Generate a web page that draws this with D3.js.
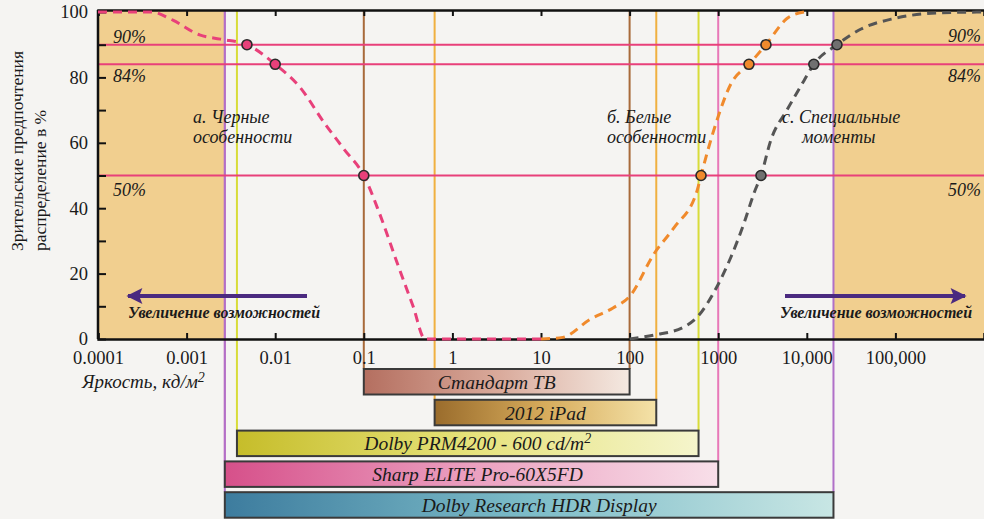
<!DOCTYPE html>
<html>
<head>
<meta charset="utf-8">
<script src="https://cdn.jsdelivr.net/npm/d3@7"></script>
<style>
  html, body { margin: 0; padding: 0; background: #f5f4f2; }
  svg { display: block; }
  text { font-family: "Liberation Serif", "DejaVu Serif", serif; fill: #1a1a1a; }
</style>
</head>
<body>
<svg id="chart" width="984" height="519"></svg>
<script>
// ---------------- DATA ----------------
const xTickValues = [1e-4, 1e-3, 1e-2, 1e-1, 1, 10, 100, 1000, 1e4, 1e5];
const xTickLabels = ["0.0001", "0.001", "0.01", "0.1", "1", "10", "100", "1000", "10,000", "100,000"];
const yTickValues = [0, 20, 40, 60, 80, 100];
const yMinorTicks = [10, 30, 50, 70, 90];
const thresholds = [90, 84, 50];
const thresholdLabels = ["90%", "84%", "50%"];

// Curve a: black features (luminance cd/m2, % preference)
const blackCurve = [[0.0001,100],[0.0004,100],[0.0007,97.5],[0.0014,93],[0.0024,91.7],[0.0048,90],[0.01,84],[0.019,77],[0.036,66],[0.06,58],[0.1,50],[0.15,38.5],[0.24,23],[0.36,10],[0.49,0],[1,0],[3,0],[10,0]];
// Curve b: white features
const whiteCurve = [[10,0],[17.6,0.5],[35.8,6],[65,9.5],[100,13],[188,26],[316,34],[580,45.5],[640,50],[945,66],[1390,78],[2225,84],[3460,90],[5970,98],[9300,100]];
// Curve c: specular highlights
const specCurve = [[100,0],[188,1.2],[411,3.7],[580,6.7],[968,16],[1390,25],[1960,35.5],[2535,44.6],[3040,50],[3950,61],[5970,70],[9290,79],[12000,84],[21900,90],[41000,94.8],[96000,98],[295000,99.7],[1000000,100]];

const blackMarks = [[0.0048,90],[0.01,84],[0.1,50]];
const whiteMarks = [[640,50],[2225,84],[3460,90]];
const specMarks = [[3040,50],[12000,84],[21900,90]];

// Display luminance ranges
const displayNames = ["Стандарт ТВ", "2012 iPad", "Dolby PRM4200 - 600 cd/m", "Sharp ELITE Pro-60X5FD", "Dolby Research HDR Display"];
const displaySup = ["", "", "2", "", ""];
const displayMin = [0.1, 0.63, 0.0037, 0.0027, 0.0027];
const displayMax = [100, 200, 600, 1000, 20000];

// ---------------- STYLE ----------------
const lineColors = ["#a86a3a", "#f0b040", "#d8dc3a", "#e878b8", "#b070c8"];
const gradStops = [
  ["#b46f60", "#d9a99a", "#f4e9e1"],
  ["#9a6c2c", "#d7ac5c", "#f4e2a8"],
  ["#c6bd2a", "#e6e27a", "#f5f5cc"],
  ["#d6508a", "#eba0c0", "#f8dfe9"],
  ["#3d7c9e", "#7dbcc8", "#c8e6e4"]
];
const labelShift = [0, 0, 10, 6, 10];
const beige = "#f1cf8f";
const pink = "#e8407a";
const orange = "#f08a2c";
const gray = "#555555";
const arrowColor = "#4b2a80";

const svg = d3.select("#chart");
const W = 984, H = 519;

const x = d3.scaleLog().domain([1e-4, 1e6]).range([98, 984]);
const y = d3.scaleLinear().domain([0, 100]).range([339, 12]);
const topY = 10;

svg.append("rect").attr("width", W).attr("height", H).attr("fill", "#f5f4f2");

// Beige regions outside the widest display range
const widest = displayMax.indexOf(d3.max(displayMax));
svg.append("rect")
  .attr("x", x(1e-4)).attr("y", topY)
  .attr("width", x(displayMin[widest]) - x(1e-4)).attr("height", y(0) - topY)
  .attr("fill", beige);
svg.append("rect")
  .attr("x", x(displayMax[widest])).attr("y", topY)
  .attr("width", x(1e6) - x(displayMax[widest])).attr("height", y(0) - topY)
  .attr("fill", beige);

// Bars band scale
const band = d3.scaleBand().domain(displayNames).range([369, 517.7]).paddingInner(0.172).paddingOuter(0);

// Vertical display lines
const vl = svg.append("g");
displayNames.forEach((n, i) => {
  [displayMin[i], displayMax[i]].forEach(v => {
    vl.append("line")
      .attr("x1", x(v)).attr("x2", x(v))
      .attr("y1", topY).attr("y2", band(n))
      .attr("stroke", lineColors[i]).attr("stroke-width", 2);
  });
});

// Threshold lines
svg.append("g").selectAll("line").data(thresholds).join("line")
  .attr("x1", x(1e-4)).attr("x2", x(1e6))
  .attr("y1", d => y(d)).attr("y2", d => y(d))
  .attr("stroke", pink).attr("stroke-width", 2);

// Threshold labels
const tlDy = [-2, 18, 20];
thresholds.forEach((t, i) => {
  svg.append("text").attr("x", 113).attr("y", y(t) + tlDy[i])
    .attr("font-size", 18).attr("font-style", "italic").text(thresholdLabels[i]);
  svg.append("text").attr("x", 981).attr("y", y(t) + tlDy[i] - (i === 0 ? 1 : 0))
    .attr("text-anchor", "end")
    .attr("font-size", 18).attr("font-style", "italic").text(thresholdLabels[i]);
});

// Axes
const xAxis = d3.axisBottom(x).tickValues(xTickValues)
  .tickFormat((d, i) => xTickLabels[i]).tickSize(-6).tickPadding(12);
const gx = svg.append("g").attr("transform", `translate(0,${y(0)})`).call(xAxis);
gx.select(".domain").attr("stroke", "#111").attr("stroke-width", 2.5);
gx.selectAll(".tick line").attr("stroke", "#111").attr("stroke-width", 2);
gx.selectAll(".tick text").attr("font-size", 18.5).attr("font-family", "Liberation Serif, serif").attr("fill", "#1a1a1a");

const xTop = d3.axisTop(x).tickValues(xTickValues).tickFormat("").tickSize(-6);
const gt = svg.append("g").attr("transform", `translate(0,${topY})`).call(xTop);
gt.select(".domain").attr("stroke", "#111").attr("stroke-width", 2.5);
gt.selectAll(".tick line").attr("stroke", "#111").attr("stroke-width", 2);

const yAxisMinor = d3.axisLeft(y).tickValues(yMinorTicks).tickFormat("").tickSize(-8);
const gym = svg.append("g").attr("transform", `translate(${x(1e-4)},0)`).call(yAxisMinor);
gym.select(".domain").remove();
gym.selectAll(".tick line").attr("stroke", "#111").attr("stroke-width", 2);

const yAxis = d3.axisLeft(y).tickValues(yTickValues).tickSize(-8).tickPadding(10);
const gy = svg.append("g").attr("transform", `translate(${x(1e-4)},0)`).call(yAxis);
gy.select(".domain").attr("stroke", "#111").attr("stroke-width", 2.5)
  .attr("d", `M0,${y(0)}V${topY}`);
gy.selectAll(".tick line").attr("stroke", "#111").attr("stroke-width", 2);
gy.selectAll(".tick text").attr("font-size", 18.5).attr("font-family", "Liberation Serif, serif").attr("fill", "#1a1a1a");

// Curves
const line = d3.line().x(d => x(d[0])).y(d => y(d[1])).curve(d3.curveMonotoneX);
const curves = [[blackCurve, pink], [whiteCurve, orange], [specCurve, gray]];
curves.forEach(([data, col]) => {
  svg.append("path").datum(data).attr("d", line)
    .attr("fill", "none").attr("stroke", col).attr("stroke-width", 3)
    .attr("stroke-dasharray", "9,6");
});

// Markers
[[blackMarks, pink], [whiteMarks, orange], [specMarks, "#707070"]].forEach(([data, col]) => {
  svg.append("g").selectAll("circle").data(data).join("circle")
    .attr("cx", d => x(d[0])).attr("cy", d => y(d[1])).attr("r", 5)
    .attr("fill", col).attr("stroke", "#2a2a2a").attr("stroke-width", 1.6);
});

// Annotations
function twoLine(xx, yy, l1, l2, dx2) {
  svg.append("text").attr("font-size", 18).attr("font-style", "italic")
    .attr("x", xx).attr("y", yy).text(l1);
  svg.append("text").attr("font-size", 18).attr("font-style", "italic")
    .attr("x", xx + (dx2 || 0)).attr("y", yy + 20).text(l2);
}
twoLine(193, 123, "а. Черные", "особенности");
twoLine(607, 123, "б. Белые", "особенности");
twoLine(782, 123, "с. Специальные", "моменты", 20);

// Y axis title
svg.append("text").attr("font-size", 17.5).attr("text-anchor", "start")
  .attr("transform", "rotate(-90)").attr("x", -251).attr("y", 23).text("Зрительские предпочтения");
svg.append("text").attr("font-size", 17.5).attr("text-anchor", "start")
  .attr("transform", "rotate(-90)").attr("x", -251).attr("y", 46).text("распределение в %");

// X axis title
const xt = svg.append("text").attr("x", 82).attr("y", 388).attr("font-size", 19).attr("font-style", "italic");
xt.append("tspan").text("Яркость, кд/м");
xt.append("tspan").attr("dy", -6).attr("font-size", 14).text("2");

// Arrows
const defs = svg.append("defs");
defs.append("marker").attr("id", "ah").attr("viewBox", "0 0 10 10").attr("refX", 9).attr("refY", 5)
  .attr("markerWidth", 4.2).attr("markerHeight", 4).attr("markerUnits", "strokeWidth").attr("orient", "auto")
  .append("path").attr("d", "M0,0L10,5L0,10L2,5Z").attr("fill", arrowColor);
svg.append("line").attr("x1", 307).attr("x2", 128).attr("y1", 296).attr("y2", 296)
  .attr("stroke", arrowColor).attr("stroke-width", 4).attr("marker-end", "url(#ah)");
svg.append("line").attr("x1", 785).attr("x2", 965).attr("y1", 296).attr("y2", 296)
  .attr("stroke", arrowColor).attr("stroke-width", 4).attr("marker-end", "url(#ah)");
svg.append("text").attr("x", 128).attr("y", 318).attr("font-size", 16).attr("font-style", "italic")
  .attr("font-weight", "bold").text("Увеличение возможностей");
svg.append("text").attr("x", 780).attr("y", 318).attr("font-size", 16).attr("font-style", "italic")
  .attr("font-weight", "bold").text("Увеличение возможностей");

// Bars
displayNames.forEach((n, i) => {
  const g = defs.append("linearGradient").attr("id", "g" + i).attr("x1", 0).attr("x2", 1).attr("y1", 0).attr("y2", 0);
  gradStops[i].forEach((c, k) => g.append("stop").attr("offset", k / 2).attr("stop-color", c));
});
const bars = svg.append("g");
displayNames.forEach((n, i) => {
  bars.append("rect")
    .attr("x", x(displayMin[i])).attr("y", band(n))
    .attr("width", x(displayMax[i]) - x(displayMin[i])).attr("height", band.bandwidth())
    .attr("fill", `url(#g${i})`).attr("stroke", "#3a3a3a").attr("stroke-width", 2);
  const t = bars.append("text")
    .attr("x", (x(displayMin[i]) + x(displayMax[i])) / 2 + labelShift[i])
    .attr("y", band(n) + band.bandwidth() / 2 + 7)
    .attr("text-anchor", "middle").attr("font-size", 19.5).attr("font-style", "italic");
  t.append("tspan").text(n);
  if (displaySup[i]) t.append("tspan").attr("dy", -7).attr("font-size", 14).text(displaySup[i]);
});
</script>
</body>
</html>
